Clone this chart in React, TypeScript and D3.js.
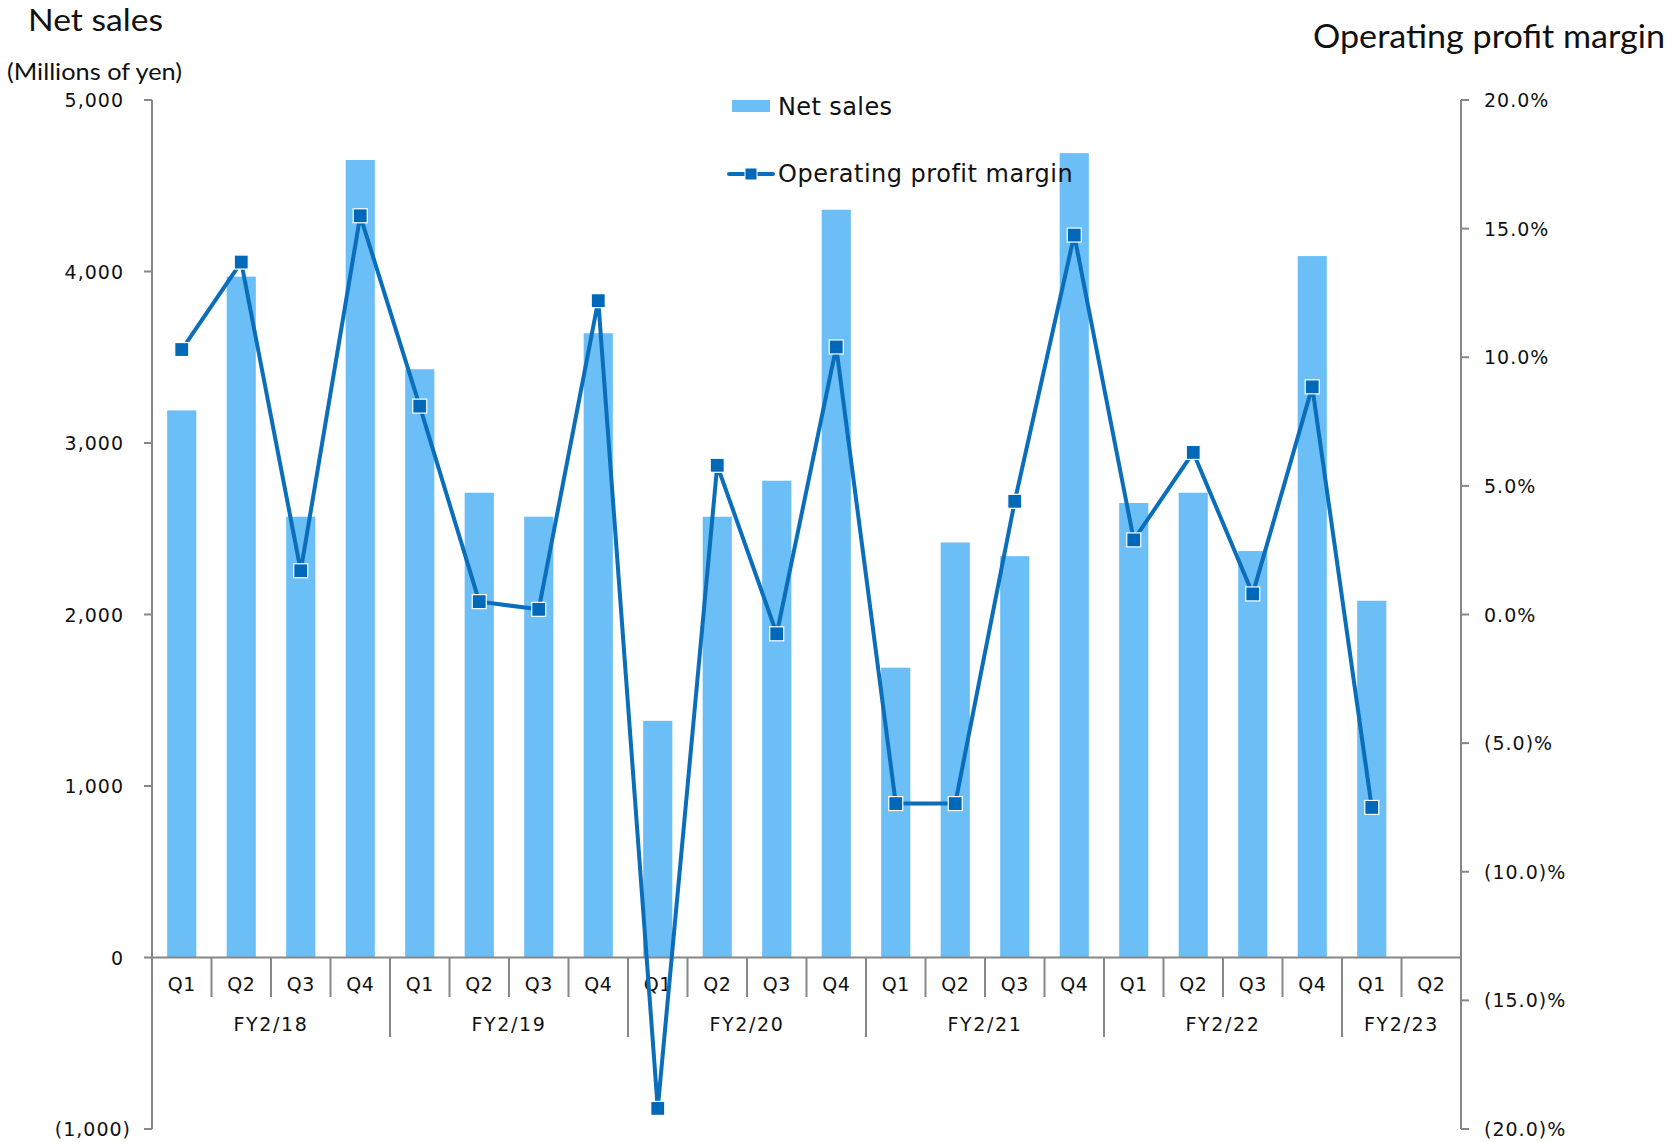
import React from "react";
import * as d3 from "d3";

const quarters = ["Q1","Q2","Q3","Q4","Q1","Q2","Q3","Q4","Q1","Q2","Q3","Q4","Q1","Q2","Q3","Q4","Q1","Q2","Q3","Q4","Q1","Q2"];
const fiscalYears = [
  { label: "FY2/18", start: 0, end: 4 },
  { label: "FY2/19", start: 4, end: 8 },
  { label: "FY2/20", start: 8, end: 12 },
  { label: "FY2/21", start: 12, end: 16 },
  { label: "FY2/22", start: 16, end: 20 },
  { label: "FY2/23", start: 20, end: 22 },
];
const netSales: (number | null)[] = [3190, 3970, 2570, 4650, 3430, 2710, 2570, 3640, 1380, 2570, 2780, 4360, 1690, 2420, 2340, 4690, 2650, 2710, 2370, 4090, 2080, null];
const opMargin: (number | null)[] = [10.3, 13.7, 1.7, 15.5, 8.1, 0.5, 0.2, 12.2, -19.2, 5.8, -0.75, 10.4, -7.35, -7.35, 4.4, 14.75, 2.9, 6.3, 0.8, 8.85, -7.5, null];
const leftTicks = [-1000, 0, 1000, 2000, 3000, 4000, 5000];
const rightTicks = [-20, -15, -10, -5, 0, 5, 10, 15, 20];

const W = 1673, H = 1142;
const X0 = 152, X1 = 1461, YT = 100, YB = 1129;
const BAR = "#6BBEF6";
const LINE = "#0A6EBA";
const MARK = "#0068B8";
const AXIS = "#878787";
const VERD = "'DejaVu Sans', Verdana, sans-serif";
const CAL = "Lato, 'Open Sans', sans-serif";

const fmtLeft = (v: number) => (v < 0 ? `(${d3.format(",")(-v)})` : d3.format(",")(v));
const fmtRight = (v: number) => (v < 0 ? `(${(-v).toFixed(1)})%` : `${v.toFixed(1)}%`);

export default function App() {
  const idx = quarters.map((_, i) => i);
  const x = d3.scaleBand<number>().domain(idx).range([X0, X1]).paddingInner(0.51).paddingOuter(0.255);
  const step = (X1 - X0) / quarters.length;
  const yL = d3.scaleLinear().domain([-1000, 5000]).range([YB, YT]);
  const yR = d3.scaleLinear().domain([-20, 20]).range([YB, YT]);
  const zeroY = yL(0);
  const cx = (i: number) => (x(i) as number) + x.bandwidth() / 2;

  const pts = opMargin.map((v, i) => ({ v, i })).filter((d) => d.v !== null) as { v: number; i: number }[];
  const line = d3.line<{ v: number; i: number }>().x((d) => cx(d.i)).y((d) => yR(d.v));

  const fyBoundaries = new Set(fiscalYears.map((f) => f.start));

  return (
    <svg width={W} height={H} style={{ position: "absolute", left: 0, top: 0, background: "#fff" }}>
      {/* titles */}
      <text x={28} y={31} fontFamily={CAL} fontSize={30} textLength={135} lengthAdjust="spacingAndGlyphs" fill="#111">Net sales</text>
      <text x={7} y={80} fontFamily={CAL} fontSize={24} textLength={175} lengthAdjust="spacingAndGlyphs" fill="#111">(Millions of yen)</text>
      <text x={1313} y={48} fontFamily={CAL} fontSize={32} textLength={352} lengthAdjust="spacingAndGlyphs" fill="#111">Operating profit margin</text>

      {/* bars */}
      {netSales.map((v, i) =>
        v === null ? null : (
          <rect key={i} x={x(i)} y={yL(v)} width={x.bandwidth()} height={zeroY - yL(v)} fill={BAR} />
        )
      )}

      {/* left axis */}
      <line x1={X0} x2={X0} y1={YT} y2={YB} stroke={AXIS} strokeWidth={2} />
      {leftTicks.map((t) => (
        <g key={t}>
          <line x1={X0 - 8} x2={X0} y1={yL(t)} y2={yL(t)} stroke={AXIS} strokeWidth={2} />
          <text x={t < 0 ? 131 : 124} y={yL(t) + 7} textAnchor="end" fontFamily={VERD} fontSize={19} letterSpacing={1} fill="#111">{fmtLeft(t)}</text>
        </g>
      ))}

      {/* right axis */}
      <line x1={X1} x2={X1} y1={YT} y2={YB} stroke={AXIS} strokeWidth={2} />
      {rightTicks.map((t) => (
        <g key={t}>
          <line x1={X1} x2={X1 + 8} y1={yR(t)} y2={yR(t)} stroke={AXIS} strokeWidth={2} />
          <text x={1484} y={yR(t) + 7} textAnchor="start" fontFamily={VERD} fontSize={19} letterSpacing={1} fill="#111">{fmtRight(t)}</text>
        </g>
      ))}

      {/* category axis */}
      <line x1={X0} x2={X1} y1={zeroY} y2={zeroY} stroke={AXIS} strokeWidth={2} />
      {d3.range(quarters.length).map((i) => {
        const bx = X0 + i * step;
        const long = fyBoundaries.has(i);
        return <line key={`s${i}`} x1={bx} x2={bx} y1={zeroY} y2={long ? 1037 : 997} stroke={AXIS} strokeWidth={2} />;
      })}
      {quarters.map((q, i) => (
        <text key={`q${i}`} x={cx(i)} y={991} textAnchor="middle" fontFamily={VERD} fontSize={19} letterSpacing={0.6} fill="#111">{q}</text>
      ))}
      {fiscalYears.map((f) => (
        <text key={f.label} x={X0 + ((f.start + f.end) / 2) * step} y={1031} textAnchor="middle" fontFamily={VERD} fontSize={19} letterSpacing={1.6} fill="#111">{f.label}</text>
      ))}

      {/* line series */}
      <path d={line(pts) || ""} fill="none" stroke={LINE} strokeWidth={4} strokeLinejoin="round" />
      {pts.map((d) => (
        <rect key={`m${d.i}`} x={cx(d.i) - 7} y={yR(d.v) - 7} width={14} height={14} fill={MARK} stroke="#fff" strokeWidth={1.2} />
      ))}

      {/* legend */}
      <rect x={732} y={100} width={38} height={12} fill={BAR} />
      <text x={778} y={115} fontFamily={VERD} fontSize={24} letterSpacing={0.4} fill="#111">Net sales</text>
      <line x1={729} x2={773} y1={174} y2={174} stroke={LINE} strokeWidth={4} strokeLinecap="round" />
      <rect x={745} y={168} width={12} height={12} fill={MARK} stroke="#fff" strokeWidth={1} />
      <text x={778} y={182} fontFamily={VERD} fontSize={24} letterSpacing={0.5} fill="#111">Operating profit margin</text>
    </svg>
  );
}
